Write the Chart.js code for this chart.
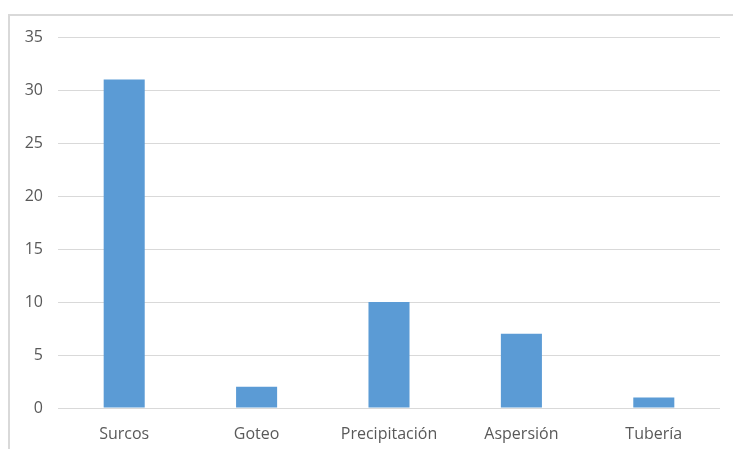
<!DOCTYPE html>
<html>
<head>
<meta charset="utf-8">
<script src="https://cdn.jsdelivr.net/npm/chart.js@4"></script>
<style>
  html, body { margin: 0; padding: 0; background: #fff; }
  #wrap { position: relative; width: 733px; height: 449px; overflow: hidden; }
  #frame { position: absolute; left: 8px; top: 14px; width: 800px; height: 500px;
           border-top: 2px solid #d9d9d9; border-left: 2px solid #d9d9d9; box-sizing: border-box; }
  canvas { position: absolute; left: 0; top: 0; }
</style>
</head>
<body>
<div id="wrap">
  <div id="frame"></div>
  <canvas id="c" width="733" height="449"></canvas>
</div>
<script>
// Métodos de riego y número de casos
const categories = ['Surcos', 'Goteo', 'Precipitación', 'Aspersión', 'Tubería'];
const values = [31, 2, 10, 7, 1];
const yMin = 0, yMax = 35, yStep = 5;

new Chart(document.getElementById('c'), {
  type: 'bar',
  data: {
    labels: categories,
    datasets: [{
      data: values,
      backgroundColor: '#5B9BD5',
      borderWidth: 0,
      categoryPercentage: 1,
      barPercentage: 0.31
    }]
  },
  options: {
    responsive: false,
    animation: false,
    layout: { padding: { top: 37, right: 13, left: 0, bottom: 0 } },
    plugins: { legend: { display: false }, tooltip: { enabled: false } },
    scales: {
      x: {
        grid: { display: false, drawTicks: false },
        border: { display: false },
        ticks: { color: '#595959', font: { family: 'Open Sans', size: 16 }, padding: 17 },
        afterFit: s => { s.height = 41; }
      },
      y: {
        min: yMin, max: yMax,
        grid: { color: '#d9d9d9', lineWidth: 1, drawTicks: false },
        border: { display: false },
        ticks: { stepSize: yStep, color: '#595959', font: { family: 'Open Sans', size: 16 }, padding: 15 },
        afterFit: s => { s.width = 58; }
      }
    }
  }
});
</script>
</body>
</html>
